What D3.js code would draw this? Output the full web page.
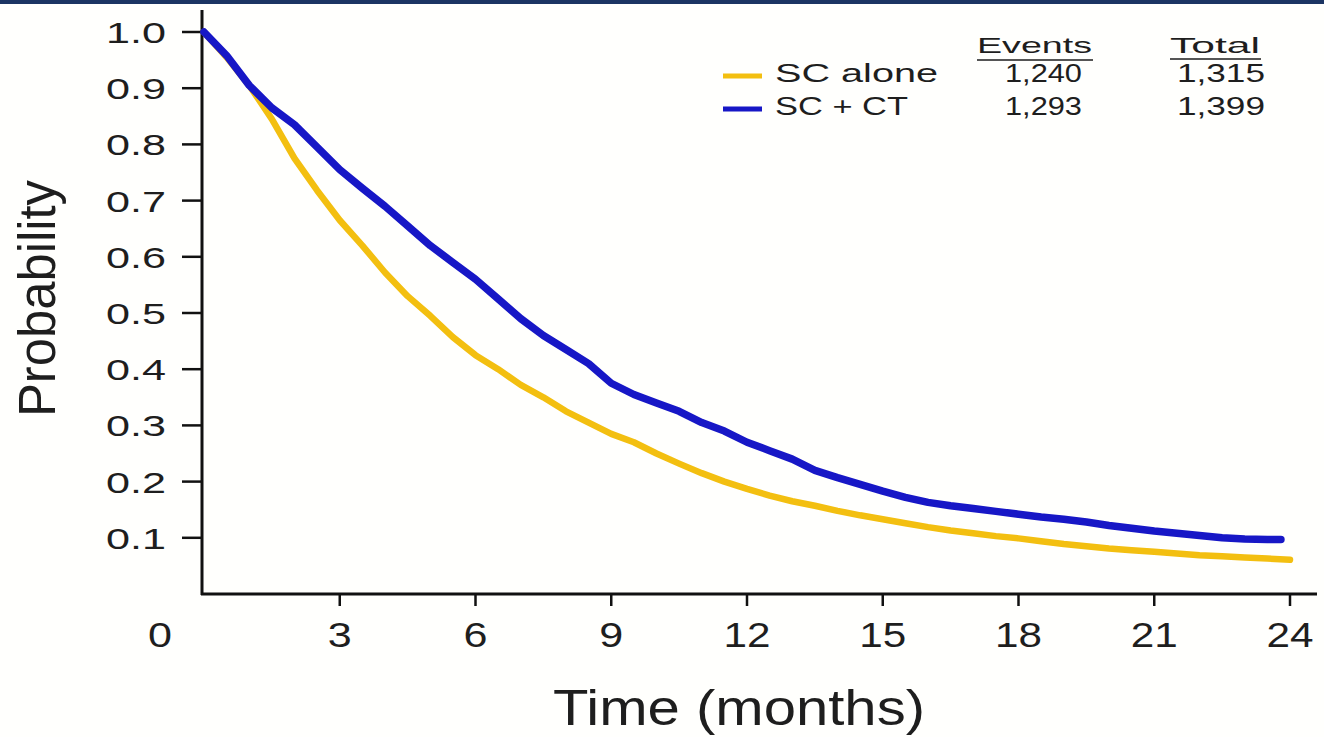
<!DOCTYPE html>
<html>
<head>
<meta charset="utf-8">
<script src="https://cdn.jsdelivr.net/npm/d3@7"></script>
<style>
  body { margin: 0; background: #fff; }
  text { font-family: "Liberation Sans", Arial, sans-serif; fill: #1e1e1e; }
</style>
</head>
<body>
<script>
// survival estimates (months -> probability)
const scAloneMonths = [0, 0.5, 1, 1.5, 2, 2.5, 3, 3.5, 4, 4.5, 5, 5.5, 6, 6.5, 7, 7.5, 8, 8.5, 9, 9.5, 10, 10.5, 11, 11.5, 12,
  12.5, 13, 13.5, 14, 14.5, 15, 15.5, 16, 16.5, 17, 17.5, 18, 18.5, 19, 19.5, 20, 20.5, 21, 21.5, 22, 22.5, 23, 23.5, 24]
const scAloneValues = [1.0, 0.955, 0.905, 0.845, 0.775, 0.718, 0.665, 0.62, 0.572, 0.53, 0.495, 0.457, 0.425, 0.40, 0.372, 0.35,
  0.325, 0.305, 0.285, 0.27, 0.25, 0.232, 0.215, 0.20, 0.187, 0.175, 0.165, 0.157, 0.148, 0.14, 0.133, 0.126, 0.119, 0.113,
  0.108, 0.103, 0.099, 0.094, 0.089, 0.085, 0.081, 0.078, 0.075, 0.072, 0.069, 0.067, 0.065, 0.063, 0.061]

const scCtMonths = [0, 0.5, 1, 1.5, 2, 2.5, 3, 3.5, 4, 4.5, 5, 5.5, 6, 6.5, 7, 7.5, 8, 8.5, 9, 9.5, 10, 10.5, 11, 11.5, 12,
  12.5, 13, 13.5, 14, 14.5, 15, 15.5, 16, 16.5, 17, 17.5, 18, 18.5, 19, 19.5, 20, 20.5, 21, 21.5, 22, 22.5, 23, 23.5, 23.8]
const scCtValues = [1.0, 0.958, 0.905, 0.865, 0.835, 0.795, 0.755, 0.722, 0.69, 0.655, 0.62, 0.59, 0.56, 0.525, 0.49, 0.46,
  0.435, 0.41, 0.375, 0.355, 0.34, 0.325, 0.305, 0.29, 0.27, 0.255, 0.24, 0.22, 0.207, 0.195, 0.183, 0.172, 0.163, 0.157,
  0.152, 0.147, 0.142, 0.137, 0.133, 0.128, 0.122, 0.117, 0.112, 0.108, 0.104, 0.100, 0.098, 0.097, 0.097]

const xTicks = [3, 6, 9, 12, 15, 18, 21, 24]
const yTicks = [0.1, 0.2, 0.3, 0.4, 0.5, 0.6, 0.7, 0.8, 0.9, 1.0]

const legendNames = ["SC alone", "SC + CT"]
const legendEvents = ["1,240", "1,293"]
const legendTotals = ["1,315", "1,399"]
const legendColors = ["#f3bf10", "#1717c6"]

const width = 1324
const height = 737
const axisX = 202
const axisY = 594

const svg = d3.select("body").append("svg").attr("width", width).attr("height", height)

svg.append("rect").attr("width", width).attr("height", height).attr("fill", "#fffffd")
svg.append("rect").attr("width", width).attr("height", 4).attr("fill", "#1c3563")

const scaleX = d3.scaleLinear().domain([0, 24]).range([204, 1290])
const scaleY = d3.scaleLinear().domain([0, 1]).range([axisY, 32])

// axes
svg.append("line").attr("x1", axisX).attr("x2", axisX).attr("y1", 10).attr("y2", axisY + 1)
  .style("stroke", "#111").style("stroke-width", 3)
svg.append("line").attr("x1", axisX - 1).attr("x2", 1317).attr("y1", axisY).attr("y2", axisY)
  .style("stroke", "#111").style("stroke-width", 3)

const yFormat = d3.format(".1f")
yTicks.forEach(tick => {
  const g = svg.append("g").attr("transform", `translate(0,${scaleY(tick)})`)
  g.append("line").attr("x1", axisX - 20).attr("x2", axisX).style("stroke", "#111").style("stroke-width", 2.5)
  g.append("text").text(yFormat(tick)).attr("x", 106).attr("y", 11)
    .attr("font-size", 30).attr("textLength", 60).attr("lengthAdjust", "spacingAndGlyphs")
})

xTicks.forEach(tick => {
  const g = svg.append("g").attr("transform", `translate(${scaleX(tick)},0)`)
  g.append("line").attr("y1", axisY).attr("y2", axisY + 12).style("stroke", "#111").style("stroke-width", 2.5)
  const len = String(tick).length > 1 ? 47 : 24
  g.append("text").text(tick).attr("x", -len / 2).attr("y", 647)
    .attr("font-size", 35).attr("textLength", len).attr("lengthAdjust", "spacingAndGlyphs")
})
// origin label
svg.append("text").text("0").attr("x", 148).attr("y", 647)
  .attr("font-size", 35).attr("textLength", 24).attr("lengthAdjust", "spacingAndGlyphs")

// axis titles
svg.append("text").text("Time (months)").attr("x", 553).attr("y", 725)
  .attr("font-size", 50).attr("textLength", 372).attr("lengthAdjust", "spacingAndGlyphs")
svg.append("text").text("Probability")
  .attr("transform", "translate(55,417) rotate(-90)")
  .attr("font-size", 51).attr("textLength", 237).attr("lengthAdjust", "spacingAndGlyphs")

// curves
const line = d3.line()
  .x(d => scaleX(d[0]))
  .y(d => scaleY(d[1]))
  .curve(d3.curveLinear)

const scAlone = scAloneMonths.map((m, i) => [m, scAloneValues[i]])
const scCt = scCtMonths.map((m, i) => [m, scCtValues[i]])

svg.append("path").attr("d", line(scAlone))
  .style("fill", "none").style("stroke", legendColors[0]).style("stroke-width", 6.5)
  .style("stroke-linejoin", "round").style("stroke-linecap", "round")
svg.append("path").attr("d", line(scCt))
  .style("fill", "none").style("stroke", legendColors[1]).style("stroke-width", 7.5)
  .style("stroke-linejoin", "round").style("stroke-linecap", "round")

// legend
const header = svg.append("g")
header.append("text").text("Events").attr("x", 977).attr("y", 53)
  .attr("font-size", 22).attr("textLength", 115).attr("lengthAdjust", "spacingAndGlyphs")
header.append("line").attr("x1", 977).attr("x2", 1093).attr("y1", 60).attr("y2", 60)
  .style("stroke", "#555").style("stroke-width", 2)
header.append("text").text("Total").attr("x", 1170).attr("y", 53)
  .attr("font-size", 22).attr("textLength", 90).attr("lengthAdjust", "spacingAndGlyphs")
header.append("line").attr("x1", 1170).attr("x2", 1261).attr("y1", 59).attr("y2", 59)
  .style("stroke", "#555").style("stroke-width", 2)

const rowY = [82, 115]
legendNames.forEach((name, i) => {
  const g = svg.append("g").attr("transform", `translate(0,${rowY[i]})`)
  g.append("line").attr("x1", 723).attr("x2", 762).attr("y1", -6).attr("y2", -6)
    .style("stroke", legendColors[i]).style("stroke-width", 5)
  g.append("text").text(name).attr("x", 775)
    .attr("font-size", 26).attr("textLength", name === "SC alone" ? 163 : 133).attr("lengthAdjust", "spacingAndGlyphs")
  g.append("text").text(legendEvents[i]).attr("x", 1005)
    .attr("font-size", 26).attr("textLength", 77).attr("lengthAdjust", "spacingAndGlyphs")
  g.append("text").text(legendTotals[i]).attr("x", 1177)
    .attr("font-size", 26).attr("textLength", 88).attr("lengthAdjust", "spacingAndGlyphs")
})
</script>
</body>
</html>
